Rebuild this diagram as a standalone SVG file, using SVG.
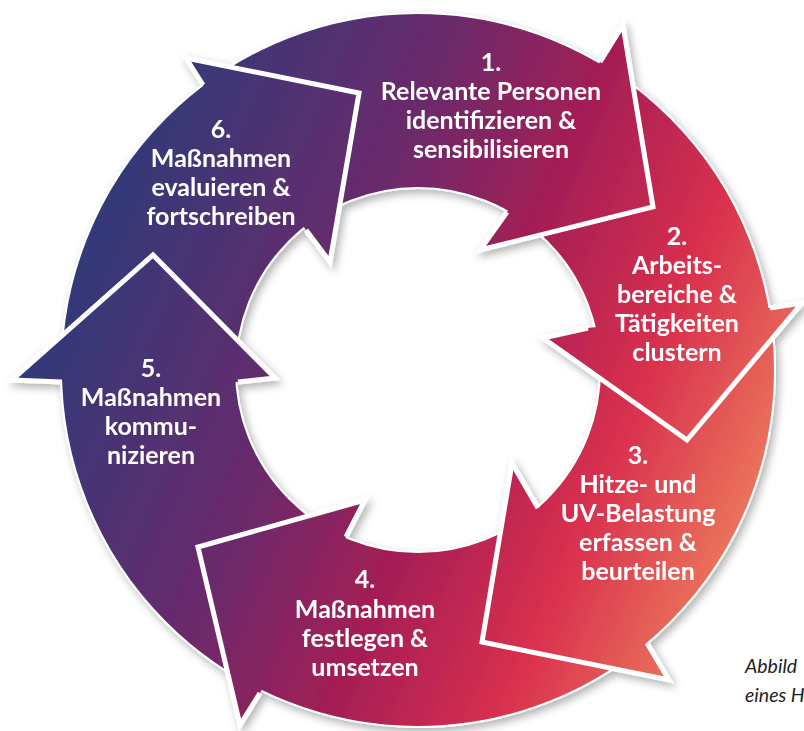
<svg xmlns="http://www.w3.org/2000/svg" width="804" height="731" viewBox="0 0 804 731">
<defs>
<linearGradient id="g" gradientUnits="userSpaceOnUse" x1="60" y1="250" x2="780" y2="560">
<stop offset="0" stop-color="#2d3b7a"/>
<stop offset="0.35" stop-color="#6b2a6b"/>
<stop offset="0.55" stop-color="#a51e55"/>
<stop offset="0.75" stop-color="#d9304e"/>
<stop offset="1" stop-color="#f08a5f"/>
</linearGradient>
<filter id="sh" x="-10%" y="-10%" width="120%" height="120%">
<feDropShadow dx="3" dy="4" stdDeviation="4" flood-color="#000" flood-opacity="0.3"/>
</filter>
</defs>
<style>
.body{fill:url(#g);stroke:#fff;stroke-width:2}
.head{fill:url(#g)}
.edge{fill:none;stroke:#fff;stroke-width:5;stroke-linejoin:miter;stroke-miterlimit:10}
.lbl{font-family:Lato,"Open Sans",sans-serif;font-weight:700;font-size:25px;fill:#fff;text-anchor:middle}
.cap{font-family:Lato,"Open Sans",sans-serif;font-style:italic;font-size:19.5px;fill:#1e1e1e}
</style>
<rect width="804" height="731" fill="#fff"/>
<g filter="url(#sh)">
<g id="ring">
<path class="body" fill-rule="evenodd" d="M418 13 A357 357 0 1 1 418 727 A357 357 0 1 1 418 13 Z M418 188 A182 182 0 1 0 418 552 A182 182 0 1 0 418 188 Z"/>
</g>
<g id="connectors"></g>
<g id="step1">
<path class="head" d="M600 62 L623 25 L653 207 L480 250 L507 212 Z"/>
<polyline class="edge" points="600,62 623,25 653,207 480,250 507,212"/>
<text class="lbl"><tspan x="491" y="71">1.</tspan><tspan x="491" y="100">Relevante Personen</tspan><tspan x="491" y="129">identifizieren &amp;</tspan><tspan x="491" y="158">sensibilisieren</tspan></text>
</g>
<g id="step2">
<path class="head" d="M770 308 L802 303 L687 440 L543 338 L588 328 Z"/>
<polyline class="edge" points="770,308 802,303 687,440 543,338 588,328"/>
<text class="lbl"><tspan x="677" y="245">2.</tspan><tspan x="677" y="274">Arbeits-</tspan><tspan x="677" y="303">bereiche &amp;</tspan><tspan x="677" y="332">Tätigkeiten</tspan><tspan x="677" y="361">clustern</tspan></text>
</g>
<g id="step3">
<path class="head" d="M647 643 L669 680 L482 642 L512 463 L538 508 Z"/>
<polyline class="edge" points="647,643 669,680 482,642 512,463 538,508"/>
<text class="lbl"><tspan x="638" y="464">3.</tspan><tspan x="638" y="493">Hitze- und</tspan><tspan x="638" y="522">UV-Belastung</tspan><tspan x="638" y="551">erfassen &amp;</tspan><tspan x="638" y="580">beurteilen</tspan></text>
</g>
<g id="step4">
<path class="head" d="M260 693 L240 725 L198 547 L365 500 L346 537 Z"/>
<polyline class="edge" points="260,693 240,725 198,547 365,500 346,537"/>
<text class="lbl"><tspan x="365" y="588">4.</tspan><tspan x="365" y="618">Maßnahmen</tspan><tspan x="365" y="647">festlegen &amp;</tspan><tspan x="365" y="676">umsetzen</tspan></text>
</g>
<g id="step5">
<path class="head" d="M62 382 L12 380 L153 255 L275 378 L238 382 Z"/>
<polyline class="edge" points="62,382 12,380 153,255 275,378 238,382"/>
<text class="lbl"><tspan x="151" y="377">5.</tspan><tspan x="151" y="406">Maßnahmen</tspan><tspan x="151" y="435">kommu-</tspan><tspan x="151" y="464">nizieren</tspan></text>
</g>
<g id="step6">
<path class="head" d="M203 85 L186 58 L359 93 L330 262 L306 230 Z"/>
<polyline class="edge" points="203,85 186,58 359,93 330,262 306,230"/>
<text class="lbl"><tspan x="221" y="138">6.</tspan><tspan x="221" y="167">Maßnahmen</tspan><tspan x="221" y="196">evaluieren &amp;</tspan><tspan x="221" y="225">fortschreiben</tspan></text>
</g>
</g>
<g id="caption">
<text class="cap" x="745" y="673">Abbild</text>
<text class="cap" x="745" y="702">eines H</text>
</g>
</svg>
